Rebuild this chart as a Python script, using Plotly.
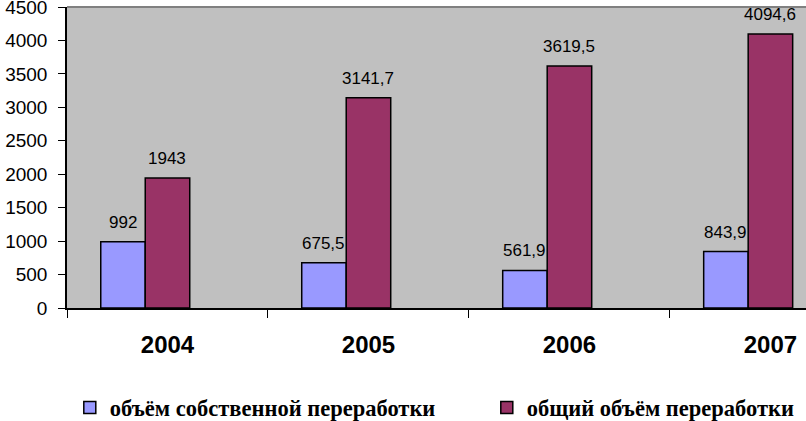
import plotly.graph_objects as go

years = ["2004", "2005", "2006", "2007"]
own_volume = [992, 675.5, 561.9, 843.9]
total_volume = [1943, 3141.7, 3619.5, 4094.6]
own_labels = ["992", "675,5", "561,9", "843,9"]
total_labels = ["1943", "3141,7", "3619,5", "4094,6"]
series_names = ["объём собственной переработки", "общий объём переработки"]
y_ticks = [0, 500, 1000, 1500, 2000, 2500, 3000, 3500, 4000, 4500]

BAR_W = 44.5 / 201
fig = go.Figure()
fig.add_trace(go.Bar(x=years, y=own_volume, name=series_names[0],
                     marker=dict(color="#9999FF", line=dict(color="black", width=1.5)),
                     width=BAR_W, offset=-1.5 * BAR_W, legendwidth=372))
fig.add_trace(go.Bar(x=years, y=total_volume, name=series_names[1],
                     marker=dict(color="#993366", line=dict(color="black", width=1.5)),
                     width=BAR_W, offset=-0.5 * BAR_W))

ann_font = dict(family="Liberation Sans, Arial", size=17, color="black")
for i, (v, t) in enumerate(zip(own_volume, own_labels)):
    fig.add_annotation(x=i, y=v, text=t, showarrow=False, xref="x", yref="y",
                       yanchor="bottom", xshift=-44.5, yshift=8, font=ann_font)
for i, (v, t) in enumerate(zip(total_volume, total_labels)):
    fig.add_annotation(x=i, y=v, text=t, showarrow=False, xref="x", yref="y",
                       yanchor="bottom", xshift=0, yshift=8, font=ann_font)

fig.add_shape(type="line", xref="paper", yref="paper", x0=0, x1=1, y0=1, y1=1,
              line=dict(color="#808080", width=2))

fig.update_layout(
    width=806, height=421,
    margin=dict(l=67, r=0, t=7, b=113, autoexpand=False),
    paper_bgcolor="white", plot_bgcolor="#C0C0C0",
    showlegend=True,
    legend=dict(orientation="h", x=0.0866, y=0.031, xref="container", yref="container",
                xanchor="left", yanchor="middle",
                font=dict(family="Liberation Serif, Times New Roman", size=22.5, color="black",
                          weight="bold"),
                bgcolor="rgba(0,0,0,0)"),
    xaxis=dict(type="category", range=[-0.5, 3.177], showline=True, linecolor="black",
               linewidth=1.5, ticks="outside", tickson="boundaries", ticklen=8,
               tickcolor="black", showgrid=False, automargin=False, ticklabelstandoff=14,
               tickfont=dict(family="Liberation Sans, Arial", size=24, color="black",
                             weight="bold")),
    yaxis=dict(range=[0, 4500], tickvals=y_ticks, showline=True, linecolor="black",
               linewidth=1.5, ticks="outside", ticklen=7, tickcolor="black",
               showgrid=False, zeroline=False, automargin=False, ticklabelstandoff=7,
               ticklabeloverflow="allow",
               tickfont=dict(family="Liberation Sans, Arial", size=19, color="black")),
)
fig.write_html("out.html", config={"displayModeBar": False},
               post_script="document.body.style.margin='0';")
